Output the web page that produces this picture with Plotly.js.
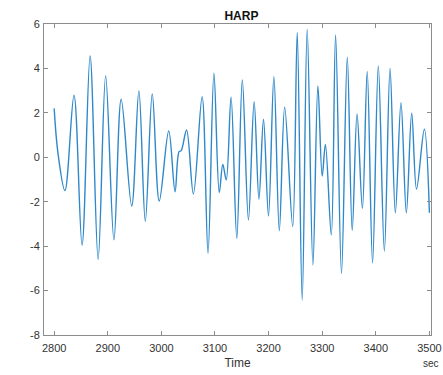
<!DOCTYPE html>
<html>
<head>
<meta charset="utf-8">
<script src="https://cdn.plot.ly/plotly-3.0.1.min.js"></script>
<style>html,body{margin:0;padding:0;background:#fff;}#chart{width:443px;height:375px;}</style>
</head>
<body>
<div id="chart"></div>
<script>
// Time (sec) of each turning point
const timeSec = [2800, 2807, 2820, 2837, 2852, 2867, 2882, 2896, 2911.5, 2925, 2944.6, 2958, 2970, 2983, 2996, 3013.7, 3025.5, 3033, 3037, 3047, 3059.7, 3076, 3087, 3098, 3108, 3114.6, 3121, 3130, 3140.7, 3151, 3162.4, 3173, 3182, 3190.5, 3199.8, 3209.9, 3220, 3230, 3245, 3253.4, 3262.7, 3272, 3282.7, 3292, 3300, 3306, 3317, 3325, 3336, 3346.8, 3356, 3365, 3375, 3384, 3394, 3404.7, 3416, 3426.6, 3436.5, 3447, 3457, 3467, 3476, 3490.6, 3500];
// HARP signal values at those times
const harp = [2.2, 0.2, -1.5, 2.8, -3.95, 4.56, -4.6, 3.66, -3.72, 2.61, -2.19, 2.99, -2.88, 2.85, -1.97, 1.18, -1.55, 0.25, 0.3, 1.23, -1.65, 2.73, -4.32, 3.78, -1.59, -0.32, -1.02, 2.7, -3.65, 3.48, -2.82, 2.5, -1.89, 1.71, -2.64, 3.63, -3.3, 2.25, -3.12, 5.61, -6.43, 5.77, -4.85, 3.21, -0.84, 0.58, -3.5, 5.51, -5.23, 4.5, -3.3, 1.95, -2.3, 3.86, -4.75, 4.11, -4.22, 4.0, -2.5, 2.46, -2.5, 1.98, -1.43, 1.26, -2.5];
const xTicks = [2800, 2900, 3000, 3100, 3200, 3300, 3400, 3500];
const yTicks = [-8, -6, -4, -2, 0, 2, 4, 6];

const FONT = 'Liberation Sans, Arial, sans-serif';
const axisCommon = {
  showline: true, mirror: 'ticks', linecolor: '#8c8c8c', linewidth: 1,
  ticks: 'inside', ticklen: 4, tickcolor: '#8c8c8c', tickwidth: 1,
  showgrid: false, zeroline: false,
  tickfont: {family: FONT, size: 11, color: '#333'}
};

Plotly.newPlot('chart', [{
  x: timeSec, y: harp, type: 'scatter', mode: 'lines',
  line: {color: '#2F88C9', width: 1.4, shape: 'spline', smoothing: 1.0}
}], {
  width: 443, height: 375,
  margin: {l: 44, r: 12, t: 24, b: 40},
  paper_bgcolor: '#fff', plot_bgcolor: '#fff',
  showlegend: false,
  title: {text: '<b>HARP</b>', x: 0.545, xanchor: 'center', y: 0.958, yanchor: 'middle',
          font: {family: FONT, size: 12, color: '#111'}},
  xaxis: Object.assign({}, axisCommon, {
    range: [2781, 3503], tickvals: xTicks, ticktext: xTicks.map(String),
    ticklabelstandoff: 3,
    title: {text: 'Time', standoff: 5, font: {family: FONT, size: 12, color: '#333'}}
  }),
  yaxis: Object.assign({}, axisCommon, {
    range: [-8, 6], tickvals: yTicks, ticktext: yTicks.map(String),
    ticklabelstandoff: 1
  }),
  annotations: [{
    text: 'sec', xref: 'paper', yref: 'paper', x: 1.0, y: -0.093, xanchor: 'center', yanchor: 'middle',
    showarrow: false, font: {family: FONT, size: 10, color: '#333'}
  }]
}, {displayModeBar: false, staticPlot: true});
</script>
</body>
</html>
